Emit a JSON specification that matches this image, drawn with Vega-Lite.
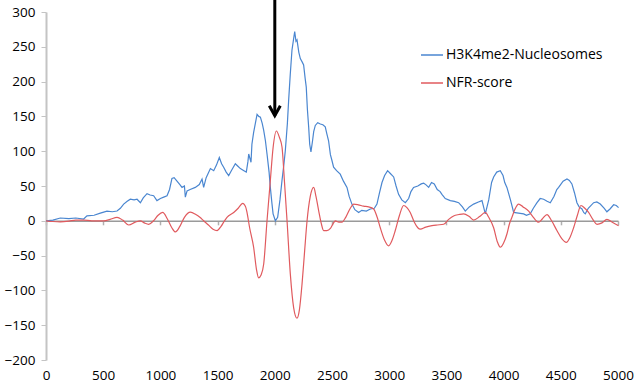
{
  "$schema": "https://vega.github.io/schema/vega-lite/v6.json",
  "width": 572,
  "height": 348,
  "autosize": "none",
  "padding": {"left": 46, "top": 12, "right": 25, "bottom": 25},
  "background": "white",
  "config": {
    "view": {"stroke": null},
    "font": "Open Sans",
    "axis": {"labelFont": "Open Sans", "labelFontSize": 13, "labelColor": "#000000", "grid": false, "title": null, "labelOverlap": false, "format": "d"}
  },
  "datasets": {
    "blue": [
      {"x":0,"v":0},{"x":60,"v":1},{"x":125,"v":4},{"x":200,"v":3},{"x":260,"v":4},{"x":329,"v":2.5},{"x":358,"v":7},{"x":420,"v":8},{"x":475,"v":11},{"x":533,"v":14},{"x":580,"v":13},{"x":621,"v":14},{"x":650,"v":18},{"x":679,"v":24},{"x":710,"v":28},{"x":737,"v":31},{"x":770,"v":30},{"x":796,"v":31},{"x":825,"v":26},{"x":850,"v":33},{"x":883,"v":39},{"x":910,"v":37},{"x":941,"v":36},{"x":970,"v":29},{"x":1000,"v":32},{"x":1029,"v":34},{"x":1058,"v":36},{"x":1080,"v":45},{"x":1101,"v":61},{"x":1120,"v":62},{"x":1145,"v":57},{"x":1165,"v":53},{"x":1189,"v":48},{"x":1210,"v":50},{"x":1218,"v":34},{"x":1233,"v":43},{"x":1260,"v":45},{"x":1305,"v":48},{"x":1340,"v":52},{"x":1364,"v":60},{"x":1378,"v":48},{"x":1400,"v":62},{"x":1437,"v":75},{"x":1466,"v":72},{"x":1490,"v":80},{"x":1515,"v":91},{"x":1535,"v":82},{"x":1553,"v":77},{"x":1575,"v":70},{"x":1597,"v":65},{"x":1620,"v":72},{"x":1655,"v":82},{"x":1680,"v":78},{"x":1699,"v":75},{"x":1730,"v":72},{"x":1751,"v":70},{"x":1765,"v":85},{"x":1772,"v":96},{"x":1792,"v":84},{"x":1800,"v":110},{"x":1815,"v":127},{"x":1830,"v":140},{"x":1845,"v":153},{"x":1860,"v":150},{"x":1874,"v":149},{"x":1890,"v":140},{"x":1903,"v":130},{"x":1918,"v":115},{"x":1932,"v":96},{"x":1950,"v":70},{"x":1961,"v":48},{"x":1975,"v":25},{"x":1985,"v":10},{"x":2005,"v":0},{"x":2025,"v":5},{"x":2045,"v":30},{"x":2063,"v":58},{"x":2080,"v":82},{"x":2092,"v":101},{"x":2110,"v":140},{"x":2121,"v":173},{"x":2135,"v":210},{"x":2150,"v":245},{"x":2165,"v":262},{"x":2174,"v":272},{"x":2185,"v":258},{"x":2194,"v":260},{"x":2210,"v":242},{"x":2223,"v":233},{"x":2240,"v":228},{"x":2252,"v":224},{"x":2265,"v":205},{"x":2275,"v":192},{"x":2285,"v":160},{"x":2296,"v":135},{"x":2305,"v":110},{"x":2316,"v":99},{"x":2330,"v":115},{"x":2340,"v":128},{"x":2354,"v":137},{"x":2375,"v":141},{"x":2398,"v":139},{"x":2420,"v":138},{"x":2441,"v":135},{"x":2455,"v":125},{"x":2470,"v":115},{"x":2486,"v":95},{"x":2499,"v":87},{"x":2514,"v":77},{"x":2540,"v":72},{"x":2572,"v":67},{"x":2600,"v":57},{"x":2631,"v":48},{"x":2650,"v":35},{"x":2674,"v":24},{"x":2700,"v":16},{"x":2733,"v":12},{"x":2760,"v":15},{"x":2800,"v":14},{"x":2835,"v":17},{"x":2870,"v":18},{"x":2893,"v":24},{"x":2915,"v":40},{"x":2937,"v":55},{"x":2960,"v":65},{"x":2986,"v":72},{"x":3010,"v":68},{"x":3039,"v":63},{"x":3060,"v":50},{"x":3082,"v":38},{"x":3110,"v":30},{"x":3141,"v":26},{"x":3170,"v":32},{"x":3190,"v":42},{"x":3213,"v":48},{"x":3250,"v":50},{"x":3280,"v":53},{"x":3301,"v":54},{"x":3320,"v":52},{"x":3345,"v":48},{"x":3370,"v":55},{"x":3394,"v":53},{"x":3420,"v":45},{"x":3445,"v":42},{"x":3461,"v":38},{"x":3490,"v":32},{"x":3534,"v":29},{"x":3570,"v":28},{"x":3607,"v":26},{"x":3640,"v":20},{"x":3665,"v":14},{"x":3700,"v":20},{"x":3738,"v":24},{"x":3780,"v":27},{"x":3811,"v":29},{"x":3825,"v":20},{"x":3840,"v":10},{"x":3870,"v":30},{"x":3895,"v":55},{"x":3913,"v":63},{"x":3940,"v":70},{"x":3971,"v":72},{"x":3995,"v":65},{"x":4010,"v":55},{"x":4029,"v":48},{"x":4060,"v":30},{"x":4088,"v":12},{"x":4130,"v":11},{"x":4175,"v":10},{"x":4200,"v":8},{"x":4233,"v":10},{"x":4260,"v":18},{"x":4292,"v":26},{"x":4320,"v":32},{"x":4350,"v":31},{"x":4380,"v":28},{"x":4408,"v":26},{"x":4440,"v":35},{"x":4465,"v":45},{"x":4481,"v":48},{"x":4520,"v":57},{"x":4554,"v":60},{"x":4575,"v":58},{"x":4597,"v":53},{"x":4620,"v":40},{"x":4641,"v":26},{"x":4660,"v":20},{"x":4685,"v":17},{"x":4700,"v":12},{"x":4714,"v":10},{"x":4740,"v":18},{"x":4787,"v":26},{"x":4815,"v":27},{"x":4845,"v":24},{"x":4880,"v":18},{"x":4903,"v":13},{"x":4930,"v":17},{"x":4962,"v":23},{"x":4985,"v":22},{"x":5005,"v":19}
    ],
    "red": [
      {"x":0,"v":0},{"x":60,"v":-1},{"x":125,"v":-1.5},{"x":200,"v":-0.5},{"x":260,"v":1},{"x":329,"v":1},{"x":400,"v":0},{"x":504,"v":0},{"x":560,"v":2},{"x":621,"v":5},{"x":670,"v":1},{"x":723,"v":-6},{"x":780,"v":-2},{"x":825,"v":0},{"x":860,"v":-3},{"x":898,"v":-5},{"x":940,"v":0},{"x":980,"v":8},{"x":1020,"v":12},{"x":1060,"v":3},{"x":1100,"v":-10},{"x":1131,"v":-16},{"x":1170,"v":-8},{"x":1210,"v":5},{"x":1262,"v":12.5},{"x":1310,"v":9},{"x":1345,"v":5},{"x":1378,"v":0},{"x":1420,"v":-6},{"x":1460,"v":-12},{"x":1495,"v":-14},{"x":1530,"v":-8},{"x":1560,"v":0},{"x":1582,"v":5},{"x":1641,"v":12},{"x":1680,"v":18},{"x":1719,"v":25},{"x":1745,"v":20},{"x":1757,"v":12},{"x":1780,"v":-10},{"x":1815,"v":-38},{"x":1840,"v":-70},{"x":1859,"v":-82},{"x":1880,"v":-78},{"x":1903,"v":-62},{"x":1932,"v":0},{"x":1961,"v":58},{"x":1985,"v":105},{"x":2014,"v":129},{"x":2040,"v":120},{"x":2063,"v":106},{"x":2085,"v":55},{"x":2107,"v":0},{"x":2136,"v":-77},{"x":2165,"v":-125},{"x":2194,"v":-140},{"x":2215,"v":-128},{"x":2238,"v":-91},{"x":2260,"v":-45},{"x":2282,"v":0},{"x":2310,"v":35},{"x":2340,"v":48},{"x":2360,"v":35},{"x":2384,"v":14},{"x":2405,"v":-3},{"x":2427,"v":-14},{"x":2455,"v":-14},{"x":2486,"v":-11},{"x":2510,"v":-4},{"x":2529,"v":0},{"x":2560,"v":-2},{"x":2587,"v":-2},{"x":2620,"v":5},{"x":2660,"v":18},{"x":2689,"v":24},{"x":2730,"v":23},{"x":2776,"v":21},{"x":2820,"v":20},{"x":2864,"v":17},{"x":2895,"v":5},{"x":2922,"v":-10},{"x":2960,"v":-28},{"x":2995,"v":-36},{"x":3025,"v":-28},{"x":3053,"v":-14},{"x":3090,"v":8},{"x":3126,"v":22},{"x":3155,"v":19},{"x":3184,"v":12},{"x":3220,"v":-2},{"x":3250,"v":-10},{"x":3272,"v":-12},{"x":3320,"v":-9},{"x":3374,"v":-7},{"x":3420,"v":-6},{"x":3476,"v":-5},{"x":3520,"v":2},{"x":3563,"v":7},{"x":3610,"v":9},{"x":3650,"v":10},{"x":3700,"v":6},{"x":3738,"v":1},{"x":3790,"v":6},{"x":3840,"v":12},{"x":3870,"v":5},{"x":3913,"v":-10},{"x":3945,"v":-30},{"x":3971,"v":-38},{"x":4000,"v":-32},{"x":4029,"v":-19},{"x":4050,"v":-5},{"x":4073,"v":5},{"x":4100,"v":17},{"x":4131,"v":24},{"x":4170,"v":20},{"x":4219,"v":14},{"x":4260,"v":5},{"x":4306,"v":-2},{"x":4340,"v":3},{"x":4379,"v":9},{"x":4420,"v":0},{"x":4466,"v":-14},{"x":4510,"v":-26},{"x":4548,"v":-31},{"x":4580,"v":-24},{"x":4612,"v":-10},{"x":4645,"v":8},{"x":4676,"v":22},{"x":4710,"v":18},{"x":4743,"v":12},{"x":4780,"v":2},{"x":4816,"v":-5},{"x":4860,"v":-3},{"x":4903,"v":2},{"x":4950,"v":-2},{"x":5005,"v":-7}
    ],
    "arrow": [{"x": 2000, "v": 151, "v2": 320}]
  },
  "encoding": {
    "x": {"field": "x", "type": "quantitative", "scale": {"domain": [0, 5000], "nice": false},
      "axis": {"values": [0,500,1000,1500,2000,2500,3000,3500,4000,4500,5000], "offset": -139.2, "domainColor": "#9a9a9a", "domainWidth": 1.5, "tickColor": "#b0b0b0", "tickSize": 4, "tickWidth": 1.5, "labelPadding": 144, "labelFlush": false, "labelOverlap": false, "labelFontSize": 13.5}},
    "y": {"field": "v", "type": "quantitative", "scale": {"domain": [-200, 300], "nice": false, "zero": false},
      "axis": {"values": [-200,-150,-100,-50,0,50,100,150,200,250,300], "domainColor": "#c4c4c4", "domainWidth": 2, "tickColor": "#c4c4c4", "tickSize": 5, "tickWidth": 1, "labelPadding": 6, "labelOverlap": false, "labelFlush": false, "labelFontSize": 13.5}}
  },
  "layer": [
    {
      "data": {"name": "blue"},
      "transform": [{"calculate": "'H3K4me2-Nucleosomes'", "as": "series"}],
      "mark": {"type": "line", "strokeWidth": 1.2, "interpolate": "linear"},
      "encoding": {
        "color": {"field": "series", "type": "nominal",
          "scale": {"domain": ["H3K4me2-Nucleosomes", "NFR-score"], "range": ["#4a86d0", "#e05a5e"]},
          "legend": {"title": null, "orient": "none", "legendX": 374, "legendY": 31, "symbolType": "stroke", "symbolSize": 484, "symbolStrokeWidth": 1.5, "labelFont": "Open Sans", "labelFontSize": 14, "labelColor": "#000000", "labelOffset": 2, "rowPadding": 9}}
      }
    },
    {
      "data": {"name": "red"},
      "transform": [{"calculate": "'NFR-score'", "as": "series"}],
      "mark": {"type": "line", "strokeWidth": 1.2, "interpolate": "monotone"},
      "encoding": {
        "color": {"field": "series", "type": "nominal"}
      }
    },
    {
      "data": {"name": "arrow"},
      "mark": {"type": "rule", "color": "#000000", "strokeWidth": 3},
      "encoding": {
        "y2": {"field": "v2"}
      }
    },
    {
      "data": {"name": "arrow"},
      "mark": {"type": "point", "shape": "M-0.55,-1L0,0L0.55,-1", "filled": false, "stroke": "#000000", "strokeWidth": 3, "size": 400, "opacity": 1, "strokeJoin": "miter"},
      "encoding": {}
    }
  ]
}
